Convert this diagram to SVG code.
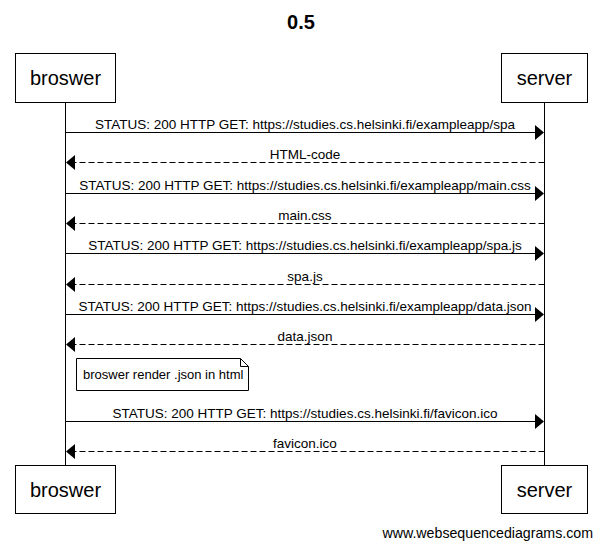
<svg xmlns="http://www.w3.org/2000/svg" width="602" height="549" viewBox="0 0 602 549">
<style>
text{font-family:"Liberation Sans",Arial,sans-serif;fill:#000}
.title{font-size:20px;font-weight:bold;text-anchor:middle}
.part{font-size:20px;text-anchor:middle}
.lbl{font-size:13.5px;text-anchor:middle}
.box{fill:#fff;stroke:#000;stroke-width:1}
.life{stroke:#000;stroke-width:1}
.msg{stroke:#000;stroke-width:1;fill:none}
.ret{stroke:#000;stroke-width:1;fill:none;stroke-dasharray:6,3}
.head{fill:#000}
.foot{font-size:14.2px;text-anchor:end}
</style>
<rect width="602" height="549" fill="#fff"/>
<text class="title" x="301" y="29">0.5</text>
<g id="lifelines">
<line class="life" x1="65.5" y1="102.5" x2="65.5" y2="465.5"/>
<line class="life" x1="544.5" y1="102.5" x2="544.5" y2="465.5"/>
</g>
<g id="broswer-top"><rect class="box" x="15.5" y="53.5" width="100" height="49"/><text class="part" x="65.5" y="85">broswer</text></g>
<g id="server-top"><rect class="box" x="501.5" y="53.5" width="86" height="49"/><text class="part" x="544.5" y="85">server</text></g>
<g id="broswer-bottom"><rect class="box" x="15.5" y="465.5" width="100" height="48"/><text class="part" x="65.5" y="497">broswer</text></g>
<g id="server-bottom"><rect class="box" x="501.5" y="465.5" width="86" height="48"/><text class="part" x="544.5" y="497">server</text></g>
<g id="connectors">
<line class="msg" x1="65.5" y1="132.5" x2="536" y2="132.5"/><polygon class="head" points="544,132.5 535,125 535,140"/>
<text class="lbl" x="305" y="129">STATUS: 200 HTTP GET: https://studies.cs.helsinki.fi/exampleapp/spa</text>
<line class="ret" x1="544.5" y1="162.5" x2="74" y2="162.5"/><polygon class="head" points="66,162.5 75,155 75,170"/>
<text class="lbl" x="305" y="159">HTML-code</text>
<line class="msg" x1="65.5" y1="193.5" x2="536" y2="193.5"/><polygon class="head" points="544,193.5 535,186 535,201"/>
<text class="lbl" x="305" y="190">STATUS: 200 HTTP GET: https://studies.cs.helsinki.fi/exampleapp/main.css</text>
<line class="ret" x1="544.5" y1="223.5" x2="74" y2="223.5"/><polygon class="head" points="66,223.5 75,216 75,231"/>
<text class="lbl" x="305" y="220">main.css</text>
<line class="msg" x1="65.5" y1="253.5" x2="536" y2="253.5"/><polygon class="head" points="544,253.5 535,246 535,261"/>
<text class="lbl" x="305" y="250">STATUS: 200 HTTP GET: https://studies.cs.helsinki.fi/exampleapp/spa.js</text>
<line class="ret" x1="544.5" y1="284.5" x2="74" y2="284.5"/><polygon class="head" points="66,284.5 75,277 75,292"/>
<text class="lbl" x="305" y="281">spa.js</text>
<line class="msg" x1="65.5" y1="314.5" x2="536" y2="314.5"/><polygon class="head" points="544,314.5 535,307 535,322"/>
<text class="lbl" x="305" y="311">STATUS: 200 HTTP GET: https://studies.cs.helsinki.fi/exampleapp/data.json</text>
<line class="ret" x1="544.5" y1="344.5" x2="74" y2="344.5"/><polygon class="head" points="66,344.5 75,337 75,352"/>
<text class="lbl" x="305" y="341">data.json</text>
<line class="msg" x1="65.5" y1="421.5" x2="536" y2="421.5"/><polygon class="head" points="544,421.5 535,414 535,429"/>
<text class="lbl" x="305" y="418">STATUS: 200 HTTP GET: https://studies.cs.helsinki.fi/favicon.ico</text>
<line class="ret" x1="544.5" y1="451.5" x2="74" y2="451.5"/><polygon class="head" points="66,451.5 75,444 75,459"/>
<text class="lbl" x="305" y="448">favicon.ico</text>
</g>
<g id="note">
<path d="M76.5,358.5 H240.5 L248.5,366.5 V390.5 H76.5 Z" fill="#fff" stroke="#000" stroke-width="1"/>
<path d="M240.5,358.5 V366.5 H248.5" fill="none" stroke="#000" stroke-width="1"/>
<text x="83" y="379" style="font-size:13px">broswer render .json in html</text>
</g>
<text class="foot" x="593" y="538">www.websequencediagrams.com</text>
</svg>
